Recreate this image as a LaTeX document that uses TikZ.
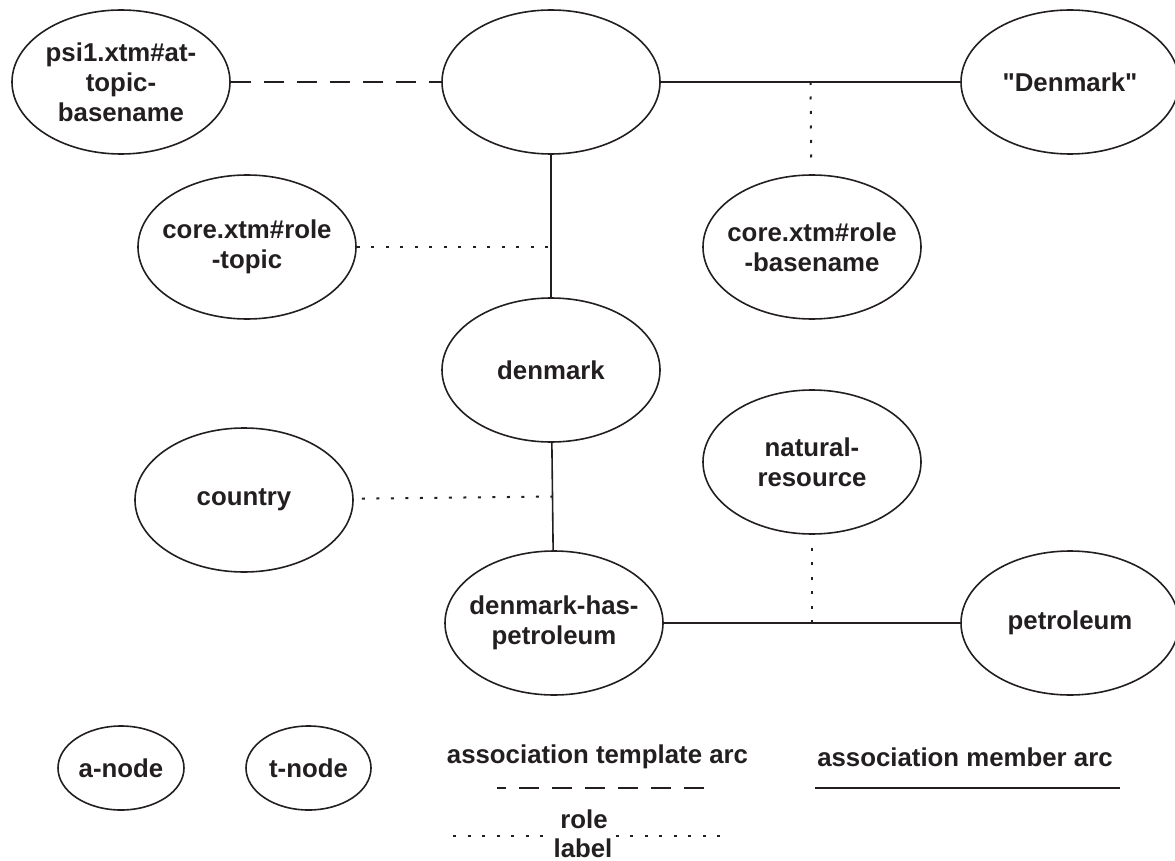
\documentclass[tikz,border=0pt]{standalone}
\usepackage{fontspec}
\setmainfont{Liberation Sans}[Ligatures=TeXOff]
\usetikzlibrary{shapes.geometric}
\definecolor{ink}{HTML}{231F20}

\begin{document}
\begin{tikzpicture}[x=1pt,y=-1pt,font=\fontsize{25.8}{30}\selectfont\bfseries,
  every node/.style={text=ink},
  topicnode/.style={ellipse,draw=ink,line width=1.6pt,minimum width=218pt,minimum height=144pt,
    inner xsep=-25pt,inner ysep=0pt,align=center},
  keynode/.style={topicnode,minimum width=126pt,minimum height=84pt},
  member/.style={draw=ink,line width=1.6pt},
  templ/.style={draw=ink,line width=1.6pt,dash pattern=on 20pt off 13pt},
  rolearc/.style={draw=ink,line width=2pt,dash pattern=on 3pt off 11.5pt}]
\useasboundingbox (0,0) rectangle (1175,861);

\node[topicnode] (psi) at (121,82) {psi1.xtm\#at-\\topic-\\basename};
\node[topicnode] (blank) at (551,82) {};
\node[topicnode] (dkname) at (1070,82) {"Denmark"};
\node[topicnode] (roletopic) at (247,247) {core.xtm\#role\\-topic};
\node[topicnode] (rolebase) at (812,247) {core.xtm\#role\\-basename};
\node[topicnode] (denmark) at (551,370) {denmark};
\node[topicnode] (natres) at (812,462) {natural-\\resource};
\node[topicnode] (country) at (244,500) {country};
\node[topicnode] (dkpetrol) at (554,623) {denmark-has-\\petroleum};
\node[topicnode] (petrol) at (1070,623) {petroleum};

\draw[templ] (psi) -- (blank);
\draw[member] (blank) -- (dkname);
\draw[member] (blank) -- (denmark);
\draw[member] (denmark) -- (dkpetrol);
\draw[member] (dkpetrol) -- (petrol);

\path (blank) -- (dkname) coordinate[midway] (mid1);
\path (denmark) -- (dkpetrol) coordinate[midway] (mid2);
\path (dkpetrol) -- (petrol) coordinate[midway] (mid3);
\draw[rolearc,shorten >=12pt] (mid1) -- (rolebase);
\draw[rolearc] (roletopic) -- (roletopic -| blank);
\draw[rolearc,shorten <=8pt] (country) -- (mid2);
\draw[rolearc,shorten >=8pt] (mid3) -- (natres);

\node[keynode] (anode) at (121,768) {a-node};
\node[keynode,minimum width=125pt] (tnode) at (308.5,768) {t-node};
\node (templtxt) at (597.5,757) {association template arc};
\node (membertxt) at (965,757) {association member arc};
\coordinate (templa) at (497,788);
\coordinate (templb) at (708,788);
\coordinate (membera) at (815,788);
\coordinate (memberb) at (1120,788);
\draw[templ,dash phase=11pt] (templa) -- (templb);
\draw[member] (membera) -- (memberb);

\node[anchor=base] (roletxt) at (584,828) {role};
\node[anchor=base] (labeltxt) at (583,857) {label};
\coordinate (rolea) at (453,836);
\coordinate (roleb) at (722,836);
\draw[rolearc] (rolea) -- (rolea -| labeltxt.west);
\draw[rolearc] (labeltxt.east |- roleb) -- (roleb);
\end{tikzpicture}
\end{document}
